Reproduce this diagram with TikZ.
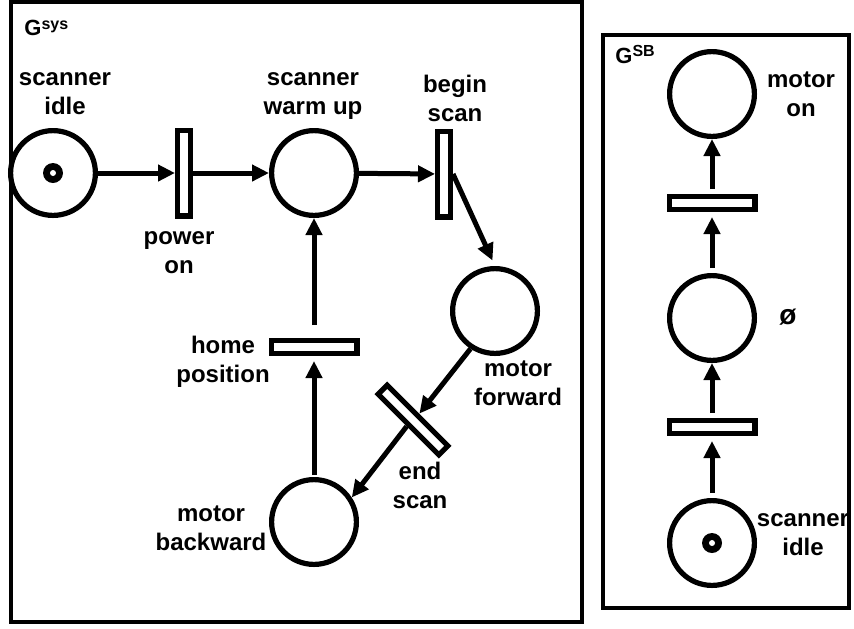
\documentclass[tikz,border=0pt]{standalone}
\usepackage{fontspec}
\setmainfont{Liberation Sans}
\usetikzlibrary{arrows.meta}

\tikzset{
  place/.style={circle, draw, line width=2.6pt, minimum size=42.4pt, inner sep=0pt},
  trans/.style={rectangle, draw, fill=white, line width=2.6pt, inner sep=0pt, minimum width=42.9pt, minimum height=6.4pt},
  vtrans/.style={trans, minimum width=6.4pt, minimum height=42.9pt},
  lbl/.style={align=center, font=\bfseries\fontsize{12}{14.5}\selectfont},
  glbl/.style={anchor=base west, inner sep=0pt, font=\bfseries\fontsize{11}{11}\selectfont},
  arc/.style={-{Triangle[length=8.5pt, width=8pt]}, line width=2.5pt},
  frame/.style={line width=1.7pt}
}

\begin{document}
\begin{tikzpicture}[x=0.5pt, y=-0.5pt]
	\useasboundingbox (0,0) rectangle (854,628);
	% frames
	\draw[frame] (11,2) rectangle (582,622);
	\draw[frame] (603,35) rectangle (849,608);
	\node[glbl] (gSys) at (24,35) {G{\fontsize{8}{8}\selectfont\raisebox{3pt}{sys}}};
	\node[glbl] (gSB) at (615,63) {G{\fontsize{8}{8}\selectfont\raisebox{3.5pt}{SB}}};

	% places and transitions of the system net
	\node[place] (pIdle) at (53,173) {};
	\node[vtrans] (tPower) at (184,173) {};
	\node[place] (pWarm) at (314,173) {};
	\node[vtrans] (tBegin) at (444,174) {};
	\node[place] (pFwd) at (495,311) {};
	\node[trans, rotate=-45] (tEnd) at (413,420) {};
	\node[place] (pBack) at (314,522) {};
	\node[trans] (tHome) at (314,347) {};
	\fill (pIdle) circle (5pt);
	\fill[white] (pIdle) circle (1.5pt);

	\node[lbl] (lIdle) at (65,94) {scanner\\idle};
	\node[lbl] (lWarm) at (313,96) {scanner\\warm up};
	\node[lbl] (lBegin) at (455,98) {begin\\scan};
	\node[lbl] (lPower) at (179,253) {power\\on};
	\node[lbl] (lHome) at (223,362) {home\\position};
	\node[lbl] (lFwd) at (518,383) {motor\\forward};
	\node[lbl] (lEnd) at (420,485) {end\\scan};
	\node[lbl] (lBack) at (211,528) {motor\\backward};

	\draw[arc] (pIdle) -- (tPower);
	\draw[arc] (tPower) -- (pWarm);
	\draw[arc] (pWarm) -- (tBegin);
	\draw[arc, shorten >=3pt] (tBegin.east) -- (pFwd.north);
	\draw[arc] (pFwd.237) -- (tEnd.north);
	\draw[arc] (tEnd.south) -- (pBack.33);
	\draw[arc, shorten <=1pt, shorten >=2.5pt] (pBack) -- (tHome);
	\draw[arc, shorten <=6.5pt] (tHome) -- (pWarm);

	% places and transitions of the scanner net
	\node[place] (qOn) at (712,94) {};
	\node[trans] (tUp) at (712,203) {};
	\node[place] (qEmpty) at (712,318) {};
	\node[trans] (tLow) at (712,427) {};
	\node[place] (qIdle) at (712,543) {};
	\fill (qIdle) circle (5pt);
	\fill[white] (qIdle) circle (1.5pt);

	\node[lbl] (lOn) at (801,94) {motor\\on};
	\node[lbl, font=\bfseries\fontsize{14}{14}\selectfont] (lEmpty) at (788,317) {ø};
	\node[lbl] (lIdle2) at (803,535) {scanner\\idle};

	\draw[arc, shorten <=2.5pt, shorten >=2.5pt] (qIdle) -- (tLow);
	\draw[arc, shorten <=2.5pt] (tLow) -- (qEmpty);
	\draw[arc, shorten <=2.5pt, shorten >=2.5pt] (qEmpty) -- (tUp);
	\draw[arc, shorten <=2.5pt] (tUp) -- (qOn);
\end{tikzpicture}
\end{document}
